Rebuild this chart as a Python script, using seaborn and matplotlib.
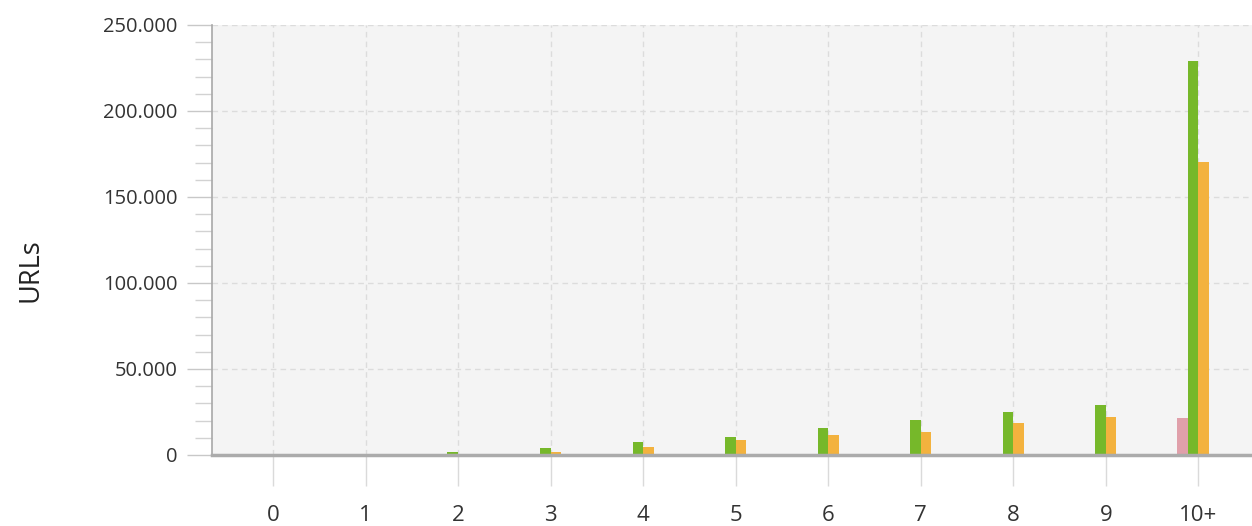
import matplotlib
matplotlib.use("Agg")
import matplotlib.pyplot as plt
import matplotlib.ticker as mticker
import numpy as np
import pandas as pd
import seaborn as sns

# URL counts per bucket, one list per status group
buckets = ["0", "1", "2", "3", "4", "5", "6", "7", "8", "9", "10+"]
group_a = [0, 0, 0, 0, 0, 0, 0, 0, 0, 0, 21500]
group_b = [100, 300, 1500, 4000, 7700, 10600, 15500, 20300, 25200, 29000, 229000]
group_c = [50, 150, 800, 2000, 4800, 8500, 11800, 13600, 18600, 22300, 170500]
group_d = [0, 0, 0, 0, 0, 0, 0, 0, 0, 0, 0]

series_names = ["A", "B", "C", "D"]
series_colors = ["#e0a0aa", "#76b82a", "#f3b23e", "#7aa6d8"]

frames = []
for name, vals in zip(series_names, [group_a, group_b, group_c, group_d]):
    frames.append(pd.DataFrame({"bucket": buckets, "urls": vals, "series": name}))
df = pd.concat(frames, ignore_index=True)

sns.set_theme(style="white")
plt.rcParams["font.family"] = ["Open Sans", "DejaVu Sans"]

fig = plt.figure(figsize=(12.52, 5.26), dpi=100)
ax = fig.add_axes([212 / 1252, 1 - 455 / 526, 1 - 212 / 1252, (455 - 25) / 526])
ax.set_facecolor("#f4f4f4")

sns.barplot(
    data=df, x="bucket", y="urls", hue="series", order=buckets,
    hue_order=series_names, palette=series_colors, width=0.46,
    saturation=1, legend=False, ax=ax, errorbar=None, linewidth=0,
)

ax.set_xlim(-0.66, 10.58)
ax.set_ylim(0, 250000)
ax.yaxis.set_major_locator(mticker.MultipleLocator(50000))
ax.yaxis.set_minor_locator(mticker.MultipleLocator(10000))
ax.yaxis.set_major_formatter(
    mticker.FuncFormatter(lambda v, p: f"{int(v):,}".replace(",", "."))
)

ax.grid(True, which="major", axis="both", color="#dcdcdc",
        linestyle=(0, (4, 3)), linewidth=1.0)
ax.set_axisbelow(True)

for side in ["top", "right"]:
    ax.spines[side].set_visible(False)
ax.spines["left"].set_color("#a8a8a8")
ax.spines["left"].set_linewidth(1.2)
ax.spines["bottom"].set_color("#ababab")
ax.spines["bottom"].set_linewidth(2.5)

ax.tick_params(axis="y", which="major", length=18, width=1, color="#c8c8c8",
               labelsize=14.5, labelcolor="#333333", pad=7, left=True)
ax.tick_params(axis="y", which="minor", length=12, width=1, color="#d2d2d2", left=True)
ax.tick_params(axis="x", which="major", length=22, width=1, color="#dadada",
               labelsize=16, labelcolor="#333333", pad=14, bottom=True)

ax.set_xlabel("")
ax.set_ylabel("URLs", fontsize=19.5, color="#222222")
ax.yaxis.set_label_coords(-0.1606, 0.43)

fig.savefig("out.png", dpi=100, facecolor="white")
